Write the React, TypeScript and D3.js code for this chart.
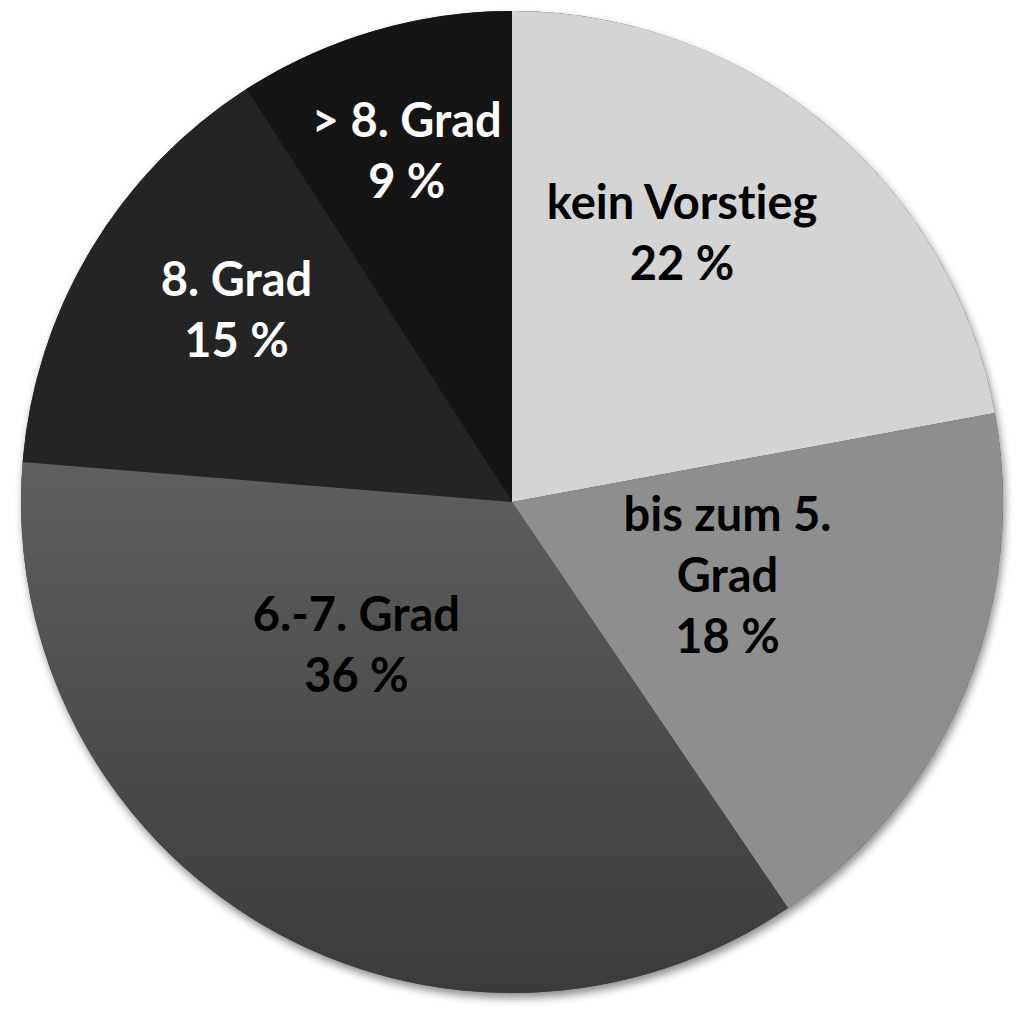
import React from "react";
import * as d3 from "d3";

const categories = ["kein Vorstieg", "bis zum 5. Grad", "6.-7. Grad", "8. Grad", "> 8. Grad"];
const values = [22.1, 18.4, 35.8, 14.6, 9.1];
const nameLines = [["kein Vorstieg"], ["bis zum 5.", "Grad"], ["6.-7. Grad"], ["8. Grad"], ["> 8. Grad"]];

const fills = ["#d4d4d4", "#8e8e8e", "url(#g67)", "#242424", "#151515"];
const textColors = ["#000", "#000", "#000", "#fff", "#fff"];
const nudges: [number, number][] = [
  [13, -81],
  [-11, -22],
  [-32, -70],
  [-65, -66],
  [-36, -116],
];

const W = 1024;
const H = 1019;
const CX = 512;
const CY = 502;
const R = 491;
const LINE = 61;
const FS = 47;

export default function App() {
  const pie = d3.pie<number>().sort(null).value((d) => d);
  const arcs = pie(values);
  const arc = d3.arc<d3.PieArcDatum<number>>().innerRadius(0).outerRadius(R);
  const total = d3.sum(values);

  return (
    <svg width={W} height={H} style={{ position: "absolute", left: 0, top: 0, background: "#fff" }}>
      <defs>
        <linearGradient id="g67" gradientUnits="userSpaceOnUse" x1={0} y1={-40} x2={0} y2={R}>
          <stop offset="0" stopColor="#5f5f5f" />
          <stop offset="1" stopColor="#3b3b3b" />
        </linearGradient>
        <filter id="sh" x="-10%" y="-10%" width="120%" height="120%">
          <feDropShadow dx="2" dy="5" stdDeviation="4" floodColor="#000" floodOpacity="0.45" />
        </filter>
      </defs>
      <g transform={`translate(${CX},${CY})`}>
        <g filter="url(#sh)">
          <circle r={R} fill="#444" />
        </g>
        {arcs.map((a, i) => (
          <path key={categories[i]} d={arc(a) || ""} fill={fills[i]} />
        ))}
        {arcs.map((a, i) => {
          const [mx, my] = arc.centroid(a);
          const cx = mx + nudges[i][0];
          const cy = my + nudges[i][1];
          const lines = [...nameLines[i], `${Math.round((values[i] / total) * 100)} %`];
          const n = lines.length;
          return (
            <text
              key={"t" + i}
              textAnchor="middle"
              fontFamily="Lato, 'Open Sans', sans-serif"
              fontWeight="bold"
              fontSize={FS}
              fill={textColors[i]}
              style={{ fontVariantLigatures: "none", fontFeatureSettings: '"liga" 0, "clig" 0' }}
            >
              {lines.map((l, j) => (
                <tspan key={j} x={cx} y={cy + (j - (n - 1) / 2) * LINE + 17}>
                  {l}
                </tspan>
              ))}
            </text>
          );
        })}
      </g>
    </svg>
  );
}
